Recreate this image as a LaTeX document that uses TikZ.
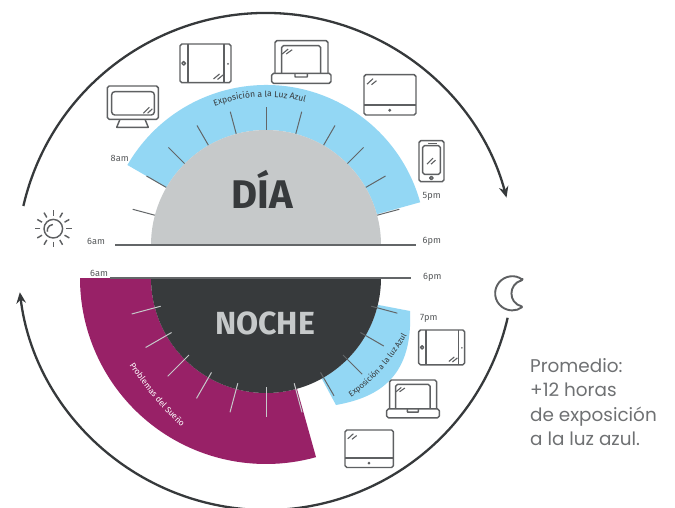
\documentclass[tikz,border=0pt]{standalone}
\usepackage{fontspec}
\setmainfont{Fira Sans}
\newfontfamily\promfont{Poppins}
\usetikzlibrary{arrows.meta,decorations.text,calc}
\definecolor{skyb}{HTML}{93D7F4}
\definecolor{paleg}{HTML}{C6C9CA}
\definecolor{darkg}{HTML}{373A3C}
\definecolor{plum}{HTML}{982167}
\definecolor{tickg}{HTML}{636668}
\definecolor{iconc}{HTML}{5E6062}
\definecolor{ringc}{HTML}{36393B}
\definecolor{labc}{HTML}{55585A}
\definecolor{notec}{HTML}{6F7173}
\tikzset{
  iconline/.style={draw=iconc,line width=1.45pt,rounded corners=1.8pt,line join=round},
  glint/.style={draw=iconc,line width=1.1pt},
  ring/.style={draw=ringc,line width=2.3pt,-{Stealth[length=11pt,width=9.5pt]}},
  daytick/.style={draw=tickg,line width=1pt},
  nighttick/.style={draw=paleg,line width=1pt},
  base/.style={draw=#1,line width=1.4pt},
  hour/.style={font=\fontsize{9.2}{10}\selectfont,text=labc,inner sep=0pt},
  pics/monitor/.style={code={\begin{scope}[yscale=-1]
    \draw[iconline] (0,0) rectangle (51,33.3);
    \draw[iconline,rounded corners=3pt] (4.4,5.7) rectangle (47,29);
    \draw[iconline,rounded corners=0pt] (12.7,33.3)--(9.4,41.3)--(41,41.3)--(37.7,33.3);
    \draw[glint] (36,27.3)--(42,21.3) (40.3,27.3)--(45,22.8);
  \end{scope}}},
  pics/sidetablet/.style={code={\begin{scope}[yscale=-1]
    \draw[iconline] (0,0) rectangle (51,38.7);
    \draw[iconline,rounded corners=0pt] (8,0)--(8,38.7) (44,0)--(44,38.7);
    \draw[iconline] (3.7,19.3) circle[radius=1.8];
    \fill[iconc] (48,19.8) circle[radius=1];
    \draw[glint] (33.5,35)--(39.5,30) (37.5,35.5)--(43,31);
  \end{scope}}},
  pics/laptop/.style={code={\begin{scope}[yscale=-1]
    \draw[iconline] (3.3,32.6)--(3.3,0)--(56.3,0)--(56.3,32.6);
    \draw[iconline] (10,32.6)--(10,5)--(49,5)--(49,32.6);
    \draw[iconline] (0,32.6) rectangle (59.3,42.6);
    \draw[iconline,rounded corners=.5pt] (23.3,32.6)--(23.3,36.3)--(35.6,36.3)--(35.6,32.6);
    \draw[glint] (10.5,13.3)--(16.5,8.3) (14.5,13.3)--(20.5,9);
  \end{scope}}},
  pics/slate/.style={code={\begin{scope}[yscale=-1]
    \draw[iconline] (0,0) rectangle (52,40.3);
    \draw[iconline,rounded corners=0pt] (0,30.3)--(52,30.3);
    \fill[iconc] (25.7,35.6) circle[radius=1.6];
    \draw[glint] (3,9.5)--(9,4) (7.5,10)--(12.5,6);
  \end{scope}}},
  pics/phone/.style={code={\begin{scope}[yscale=-1]
    \draw[iconline] (0,0) rectangle (25,41);
    \draw[iconline] (3.7,5) rectangle (21.3,33.6);
    \draw[iconline,rounded corners=0pt] (9.5,2.7)--(18,2.7);
    \fill[iconc] (9.5,2.7) circle[radius=.6];
    \draw[iconline] (12.3,37.3) circle[radius=1.7];
    \draw[glint] (8,23.5)--(14,17.5) (12,23.5)--(16.5,19.5);
  \end{scope}}}
}
\begin{document}
\begin{tikzpicture}[x=1pt,y=1pt]
\useasboundingbox (0,0) rectangle (675,-508);
\fill[white] (0,0) rectangle (675,-508);
\coordinate (dayc) at (266,-245);
\coordinate (nightc) at (266,-278);
\coordinate (ringc) at (266,-262);
% day
\fill[skyb] ($(dayc)+(150:160)$) arc[start angle=150,end angle=15.5,radius=160] -- ($(dayc)+(15.5:115)$) arc[start angle=15.5,end angle=150,radius=115] -- cycle;
\foreach \a in {15,30,...,165}{\draw[daytick] ($(dayc)+(\a:115)$) -- ($(dayc)+(\a:138)$);}
\fill[paleg] (151,-245) arc[start angle=180,end angle=0,radius=115] -- cycle;
\draw[base=tickg] (115,-245) -- (416,-245);
\node[font=\fontsize{40}{40}\bfseries\selectfont,text=darkg,inner sep=0pt,anchor=base] (dia) at (262.5,-208.3) {DÍA};
\path[decorate,decoration={text along path,text align=center,text={|\fontsize{8.6}{10}\selectfont\color{darkg}|Exposición a la Luz Azul}}] ($(dayc)+(111:148)$) arc[start angle=111,end angle=74,radius=148];
% night
\fill[plum] (80,-278) arc[start angle=180,end angle=285.6,radius=186] -- ($(nightc)+(285.6:115)$) arc[start angle=285.6,end angle=180,radius=115] -- cycle;
\fill[skyb] (410,-311) .. controls (413,-375) and (381,-397) .. (336,-405) -- ($(nightc)+(-61:115)$) arc[start angle=-61,end angle=-13.5,radius=115] -- cycle;
\fill[darkg] (151,-278) arc[start angle=180,end angle=360,radius=115] -- cycle;
\foreach \a in {195,210,...,285}{\draw[nighttick] ($(nightc)+(\a:109)$) -- ($(nightc)+(\a:139)$);}
\foreach \a in {300,315,330,345}{\draw[daytick] ($(nightc)+(\a:109)$) -- ($(nightc)+(\a:136)$);}
\draw[base=tickg] (110,-278) -- (411,-278);
\node[font=\fontsize{32}{32}\bfseries\selectfont,text=paleg,inner sep=0pt,anchor=base] (noche) at (265,-334) {NOCHE};
\path[decorate,decoration={text along path,text align=center,text={|\fontsize{8}{10}\selectfont\color{darkg}|Exposición a la luz Azul}}] (347,-400) .. controls (372,-384) and (394,-359) .. (409,-331);
\path[decorate,decoration={text along path,text align=center,text={|\fontsize{8.4}{10}\selectfont\color{white}|Problemas del Sueño}}] (126,-360) .. controls (143.3,-387.3) and (161.7,-408.9) .. (186,-431);
% ring arrows
\draw[ring] ($(ringc)+(167:249)$) arc[start angle=167,end angle=15,radius=249];
\draw[ring] ($(ringc)+(-13:248)$) arc[start angle=-13,end angle=-173,radius=248];
% hour labels
\node[hour,anchor=west] (h8am) at (110.5,-158) {8am};
\node[hour,anchor=west] (h5pm) at (422.5,-196.5) {5pm};
\node[hour,anchor=west] (h6amd) at (87,-241.5) {6am};
\node[hour,anchor=west] (h6pmd) at (422.5,-241.5) {6pm};
\node[hour,anchor=west] (h6amn) at (90,-273.5) {6am};
\node[hour,anchor=west] (h6pmn) at (423,-277.5) {6pm};
\node[hour,anchor=west] (h7pm) at (420,-318.5) {7pm};
% icons
\pic at (107.3,-86) {monitor};
\pic at (180,-44) {sidetablet};
\pic at (271.7,-40.7) {laptop};
\pic at (364,-74.7) {slate};
\pic at (419,-140.7) {phone};
\pic[scale=.9] at (418.7,-330) {sidetablet};
\pic[scale=.887] at (386.7,-380) {laptop};
\pic[scale=.93] at (345,-430) {slate};
% sun
\draw[iconline] (53.3,-228.7) circle[radius=9.3];
\draw[iconline] (47.3,-231.7) arc[start angle=190,end angle=95,radius=6.2];
\foreach \a in {0,30,...,330}{\draw[iconc,line width=1.45pt] ($(53.3,-228.7)+(\a:13)$) -- ($(53.3,-228.7)+(\a:18.5)$);}
% moon
\draw[iconline,line width=1.9pt,rounded corners=1pt] (522.7,-280) arc[start angle=51.6,end angle=308.4,radius=17] .. controls (508,-303) and (508,-284) .. (522.7,-280) -- cycle;
% note
\node[font=\promfont\fontsize{18.4}{24.2}\selectfont,text=notec,anchor=north west,align=left,inner sep=0pt] (note) at (530,-358.5) {Promedio:\\+12 horas\\de exposición\\a la luz azul.};
\end{tikzpicture}
\end{document}
